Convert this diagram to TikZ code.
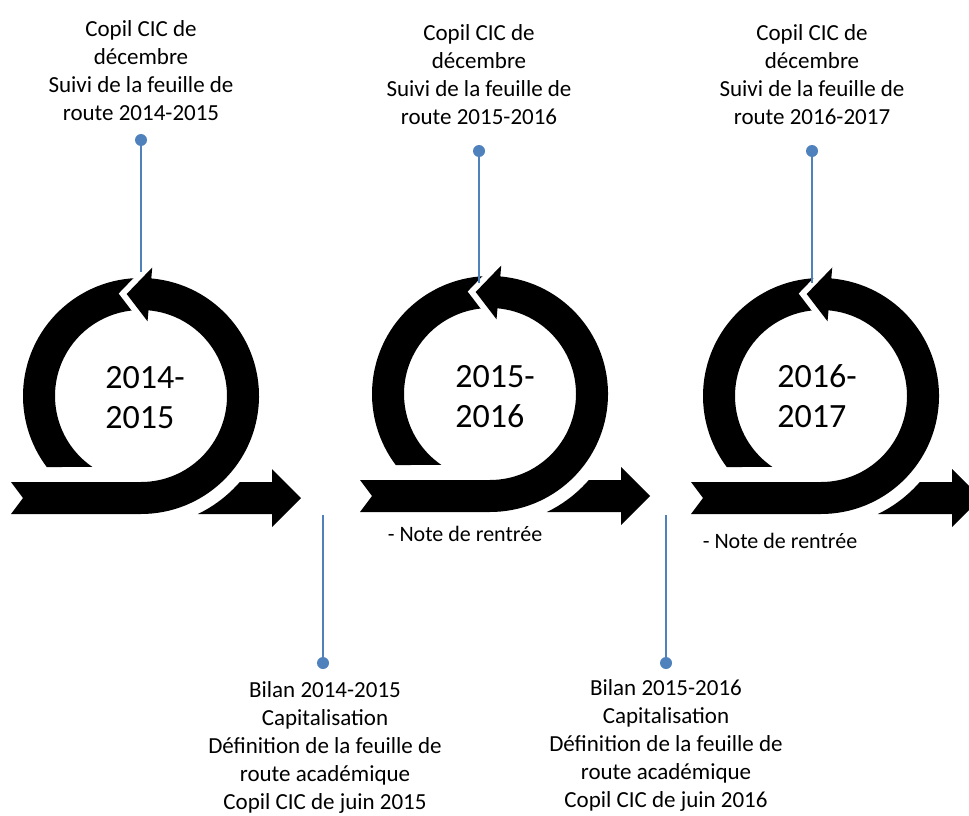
\documentclass[tikz,border=0pt]{standalone}
\usepackage{fontspec}
\setmainfont{Carlito}
\usetikzlibrary{positioning}
\definecolor{pinblue}{HTML}{4F81BD}

\newcommand{\cyclearrow}[1]{%
  \begin{scope}[shift={(#1)}]
    \fill[black] (86:118) arc[start angle=86, end angle=217, radius=118]
      -- (235.6:86) arc[start angle=235.6, end angle=86, radius=86] -- cycle;
    \fill[cyclebody] (-130,-86) -- (0,-86) arc[start angle=-90, end angle=85, radius=86]
      -- (85:75) -- (98:103) -- (85:129) -- (85:118)
      arc[start angle=85, end angle=-90, radius=118] -- (-130,-118) -- (-118,-102) -- cycle;
    \fill[black] (-41.04:131) -- (131,-86) -- (131,-73) -- (160,-102) -- (131,-131)
      -- (131,-118) -- (-64.26:131) arc[start angle=-64.26, end angle=-41.04, radius=131] -- cycle;
  \end{scope}}

\begin{document}
\begin{tikzpicture}[x=1pt, y=1pt, every node/.style={inner sep=0pt},
  cyclebody/.style={fill=black, preaction={draw=white, line width=12pt}},
  note/.style={align=center, font=\fontsize{23}{28}\selectfont},
  yearlabel/.style={align=left, font=\fontsize{34}{40}\selectfont},
  pinline/.style={pinblue, line width=2.7pt},
  pindot/.style={fill=pinblue}]
  \useasboundingbox (0,0) rectangle (969,-816);
  \clip (0,0) rectangle (969,-816);

  \cyclearrow{141,-396}
  \cyclearrow{490,-394}
  \cyclearrow{821,-396}

  \node[yearlabel] (y1) at (145,-398) {2014-\\2015};
  \node[yearlabel] (y2) at (495,-397) {2015-\\2016};
  \node[yearlabel] (y3) at (817,-396) {2016-\\2017};

  \node[note, anchor=north] (top1) at (141,-20) {Copil CIC de\\décembre\\Suivi de la feuille de\\route 2014-2015};
  \coordinate (dot1) at (141,-140);
  \coordinate (end1) at (141,-272);
  \draw[pinline] (dot1) -- (end1);
  \fill[pindot] (dot1) circle (6);

  \node[note, anchor=north] (top2) at (479,-24) {Copil CIC de\\décembre\\Suivi de la feuille de\\route 2015-2016};
  \coordinate (dot2) at (479,-151);
  \coordinate (end2) at (479,-283);
  \draw[pinline] (dot2) -- (end2);
  \fill[pindot] (dot2) circle (6);

  \node[note, anchor=north] (top3) at (812,-24) {Copil CIC de\\décembre\\Suivi de la feuille de\\route 2016-2017};
  \coordinate (dot3) at (812,-151);
  \coordinate (end3) at (812,-283);
  \draw[pinline] (dot3) -- (end3);
  \fill[pindot] (dot3) circle (6);

  \node[note, anchor=base, font=\fontsize{22}{26}\selectfont] (rentree2) at (465,-541) {- Note de rentrée};
  \node[note, anchor=base, font=\fontsize{22}{26}\selectfont] (rentree3) at (780,-548) {- Note de rentrée};

  \coordinate (start4) at (323,-515);
  \coordinate (dot4) at (323,-663);
  \draw[pinline] (start4) -- (dot4);
  \fill[pindot] (dot4) circle (6);
  \node[note, anchor=north] (bot4) at (325,-681) {Bilan 2014-2015\\Capitalisation\\Définition de la feuille de\\route académique\\Copil CIC de juin 2015};

  \coordinate (start5) at (666,-515);
  \coordinate (dot5) at (666,-663);
  \draw[pinline] (start5) -- (dot5);
  \fill[pindot] (dot5) circle (6);
  \node[note, anchor=north] (bot5) at (666,-679) {Bilan 2015-2016\\Capitalisation\\Définition de la feuille de\\route académique\\Copil CIC de juin 2016};
\end{tikzpicture}
\end{document}
